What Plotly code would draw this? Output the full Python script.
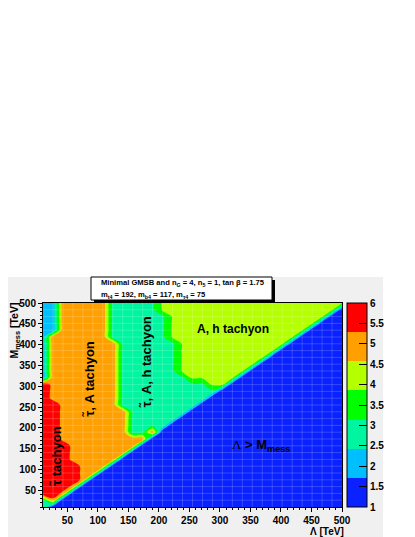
import plotly.graph_objects as go

# grid nodes of the scan (TeV)
LAMBDA_NODES = [10, 26.33, 42.67, 59, 75.33, 91.67, 108, 124.33, 140.67, 157,
                173.33, 189.67, 206, 222.33, 238.67, 255, 271.33, 287.67, 304, 320.33,
                336.67, 353, 369.33, 385.67, 402, 418.33, 434.67, 451, 467.33, 483.67, 500]
MMESS_NODES = LAMBDA_NODES

# region, one row per M_mess node (bottom -> top),
# run-length coded from Lambda = 10 upwards; the rest of a row is "B" (Lambda > M_mess)
ROWS = [
    "A1",
    "A1 O1",
    "R2 O1",
    "R3 O1",
    "R4 O1",
    "R4 O2",
    "R4 O3",
    "R3 O5",
    "R3 O6",
    "R3 O7",
    "R2 O9",
    "R2 O7 A2 O1",
    "R2 O7 A4",
    "R2 O7 A5",
    "R2 O7 A6",
    "R2 O6 A8",
    "R1 O7 A9",
    "R1 O7 A10",
    "R1 O7 A9 Y2",
    "L1 O7 A7 Y5",
    "L1 O7 A6 Y7",
    "L1 O7 A6 Y8",
    "L1 O7 A6 Y9",
    "L1 O7 A6 Y10",
    "L1 O7 A6 Y11",
    "L1 O6 A6 Y13",
    "L2 O5 A6 Y14",
    "L2 O5 A6 Y15",
    "L2 O5 A6 Y16",
    "L2 O5 A5 Y18",
    "L2 O5 A5 Y19",
]

# value of each region on the colour scale
REGION_VALUE = {"B": 1.0, "L": 2.0, "A": 3.0, "Y": 3.95, "O": 5.0, "R": 5.95}

COLORS = ["#0a22ff", "#00bfff", "#00f5a0", "#00ff00", "#b4ff00", "#ffa000", "#ff0000"]
CBAR_TICKS = [1, 1.5, 2, 2.5, 3, 3.5, 4, 4.5, 5, 5.5, 6]
X_TICKS = [50, 100, 150, 200, 250, 300, 350, 400, 450, 500]
Y_TICKS = [50, 100, 150, 200, 250, 300, 350, 400, 450, 500]

z = []
for row in ROWS:
    cells = []
    for run in row.split():
        cells += [REGION_VALUE[run[0]]] * int(run[1:])
    cells += [REGION_VALUE["B"]] * (len(LAMBDA_NODES) - len(cells))
    z.append(cells)

n = len(COLORS)
colorscale = []
for i, c in enumerate(COLORS):
    colorscale += [[i / n, c], [(i + 1) / n, c]]

# the page body adds an 8 px margin, so the figure is drawn 8 px smaller
OFF = 8
W, H = 415 - OFF, 537 - OFF
# pixel frame of the plot, in page pixels
L, R, T, B = 43, 342, 303, 507


def px(x):
    return (x - L) / (R - L)


def py(y):
    return (B - y) / (B - T)


fig = go.Figure(go.Contour(
    x=LAMBDA_NODES, y=MMESS_NODES, z=z,
    zmin=1, zmax=6, autocontour=False,
    contours=dict(start=1, end=6, size=5 / 7, coloring="fill", showlines=False),
    line_width=0,
    colorscale=colorscale,
    colorbar=dict(
        x=px(347), xanchor="left", xpad=0, ypad=0,
        y=0.5, yanchor="middle", len=1, lenmode="fraction",
        thickness=20, thicknessmode="pixels",
        outlinecolor="black", outlinewidth=1,
        tickvals=CBAR_TICKS, ticktext=[f"{t:g}" for t in CBAR_TICKS],
        ticks="inside", ticklen=8, tickcolor="black",
        tickfont=dict(size=10, color="black"),
    ),
))

# faint cell borders as in the original
for v in LAMBDA_NODES[1:-1]:
    fig.add_shape(type="line", x0=v, x1=v, y0=10, y1=500, xref="x", yref="y",
                  line=dict(color="rgba(255,255,255,0.18)", width=1))
for v in MMESS_NODES[1:-1]:
    fig.add_shape(type="line", x0=10, x1=500, y0=v, y1=v, xref="x", yref="y",
                  line=dict(color="rgba(255,255,255,0.18)", width=1))

# grey canvas
fig.add_shape(type="rect", xref="paper", yref="paper", layer="below",
              x0=px(0), x1=px(383), y0=py(540), y1=py(277),
              fillcolor="#f0f0f0", line=dict(width=0))
# text box with shadow
fig.add_shape(type="rect", xref="paper", yref="paper",
              x0=px(94), x1=px(275), y0=py(303), y1=py(280),
              fillcolor="black", line=dict(width=0))
fig.add_shape(type="rect", xref="paper", yref="paper",
              x0=px(91), x1=px(272), y0=py(300), y1=py(277),
              fillcolor="white", line=dict(color="black", width=1))

bold = dict(family="Liberation Sans, Arial, sans-serif", color="black", weight="bold")
notes = [
    dict(x=px(100), y=py(282.5), text="Minimal GMSB and n<sub>G</sub> = 4, n<sub>5</sub> = 1, tan β = 1.75",
         size=7.6, angle=0, xanchor="left"),
    dict(x=px(100), y=py(295), text="m<sub>t4</sub> = 192, m<sub>b4</sub> = 117, m<sub>τ4</sub> = 75",
         size=7.6, angle=0, xanchor="left"),
    dict(x=px(14.5), y=py(302), text="M<sub>mess</sub> [TeV]", size=10.5, angle=-90,
         xanchor="center", yanchor="top"),
    dict(x=px(345), y=py(525), text="Λ [TeV]", size=10, angle=0,
         xanchor="right", yanchor="top"),
]
for a in notes:
    fig.add_annotation(x=a["x"], y=a["y"], xref="paper", yref="paper", text=a["text"],
                       textangle=a["angle"], showarrow=False, xanchor=a["xanchor"],
                       yanchor=a.get("yanchor", "middle"), borderpad=0,
                       font=dict(bold, size=a["size"]))

labels = [
    (33, 133, "τ̃ tachyon", -90, 13),
    (87, 318, "τ̃, A tachyon", -90, 13),
    (180, 359, "τ̃, A, h tachyon", -90, 13),
    (322, 437, "A, h tachyon", 0, 12),
    (368, 157, "<span style='font-family:Liberation Serif;font-weight:normal'>Λ</span> &gt; M<sub>mess</sub>", 0, 13),
]
for x, y, t, ang, size in labels:
    fig.add_annotation(x=x, y=y, xref="x", yref="y", text=t, textangle=ang,
                       showarrow=False, font=dict(bold, size=size))

axis = dict(showline=True, linecolor="black", linewidth=1, mirror=True,
            ticks="outside", ticklen=4, tickcolor="black", showgrid=False, zeroline=False,
            tickfont=dict(size=10), layer="above traces",
            minor=dict(ticks="outside", ticklen=2, dtick=10, tick0=0, tickcolor="black"))
fig.update_xaxes(axis, range=[10, 500], tickvals=X_TICKS)
fig.update_yaxes(axis, range=[10, 500], tickvals=Y_TICKS)

fig.update_layout(
    width=W, height=H,
    margin=dict(l=L - OFF, r=W - (R - OFF), t=T - OFF, b=H - (B - OFF), autoexpand=False),
    paper_bgcolor="white", plot_bgcolor="white",
    font=bold,
    showlegend=False,
)

fig.write_html("out.html")
